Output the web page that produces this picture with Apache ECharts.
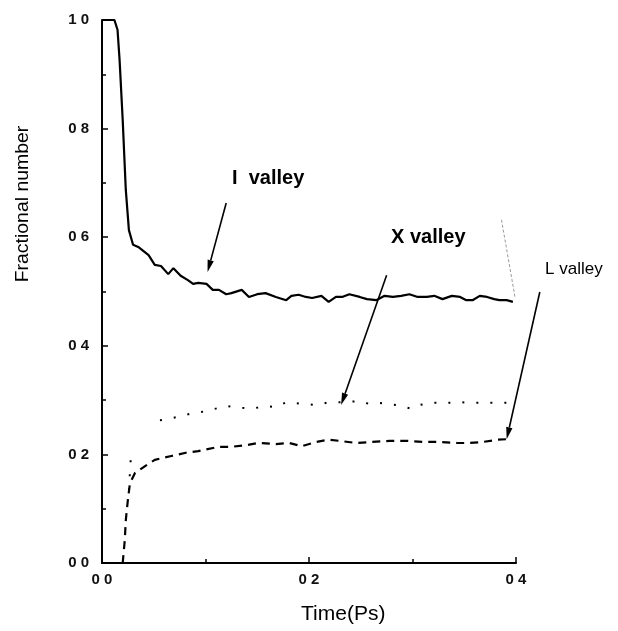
<!DOCTYPE html>
<html>
<head>
<meta charset="utf-8">
<script src="https://cdn.jsdelivr.net/npm/echarts@6/dist/echarts.min.js"></script>
<style>
  html, body { margin: 0; padding: 0; background: #fff; }
  #chart { width: 618px; height: 631px; }
</style>
</head>
<body>
<div id="chart"></div>
<script>
// Fractional valley occupation versus time
const gammaValley = [
  [0, 1.0], [0.012, 1.0], [0.015, 0.982], [0.017, 0.926], [0.020, 0.816],
  [0.023, 0.687], [0.026, 0.613], [0.030, 0.586], [0.035, 0.582], [0.045, 0.567],
  [0.051, 0.549], [0.057, 0.547], [0.064, 0.532], [0.069, 0.543], [0.076, 0.529],
  [0.083, 0.521], [0.088, 0.514], [0.093, 0.516], [0.101, 0.514], [0.107, 0.503],
  [0.113, 0.503], [0.120, 0.495], [0.125, 0.497], [0.135, 0.503], [0.142, 0.490],
  [0.150, 0.495], [0.158, 0.497], [0.168, 0.490], [0.178, 0.484], [0.183, 0.492],
  [0.190, 0.494], [0.197, 0.490], [0.203, 0.488], [0.212, 0.492], [0.219, 0.481],
  [0.226, 0.490], [0.232, 0.490], [0.239, 0.495], [0.249, 0.490], [0.256, 0.486],
  [0.265, 0.484], [0.273, 0.492], [0.281, 0.490], [0.289, 0.492], [0.297, 0.495],
  [0.305, 0.490], [0.314, 0.490], [0.321, 0.492], [0.329, 0.486], [0.338, 0.492],
  [0.346, 0.490], [0.352, 0.484], [0.358, 0.484], [0.365, 0.492], [0.372, 0.490],
  [0.379, 0.486], [0.384, 0.484], [0.391, 0.484], [0.397, 0.481]
];

// '-' marks a break in the dotted trace
const xValley = [
  [0.026, 0.134], [0.028, 0.199], [0.040, '-'], [0.056, 0.263], [0.064, 0.265], [0.088, 0.276],
  [0.096, 0.278], [0.105, 0.282], [0.120, 0.289], [0.129, 0.287], [0.144, 0.284],
  [0.159, 0.289], [0.168, 0.287], [0.178, 0.296], [0.207, 0.291], [0.217, 0.295],
  [0.249, 0.298], [0.258, 0.293], [0.268, 0.295], [0.284, 0.291], [0.299, 0.284],
  [0.307, 0.291], [0.317, 0.295], [0.326, 0.295], [0.339, 0.295], [0.346, 0.296],
  [0.358, 0.295], [0.378, 0.295], [0.394, 0.295]
];

const lValley = [
  [0.020, 0.0], [0.022, 0.042], [0.023, 0.079], [0.025, 0.116], [0.027, 0.147],
  [0.032, 0.166], [0.042, 0.179], [0.051, 0.190], [0.067, 0.197], [0.081, 0.203],
  [0.093, 0.206], [0.113, 0.214], [0.125, 0.214], [0.139, 0.217], [0.151, 0.221],
  [0.168, 0.219], [0.181, 0.221], [0.193, 0.215], [0.207, 0.223], [0.219, 0.227],
  [0.229, 0.225], [0.246, 0.221], [0.261, 0.223], [0.278, 0.225], [0.294, 0.225],
  [0.310, 0.223], [0.326, 0.223], [0.343, 0.221], [0.355, 0.221], [0.368, 0.223],
  [0.382, 0.227], [0.391, 0.228]
];

const xTickLabels = ['0 0', '0 2', '0 4'];
const yTickLabels = ['0 0', '0 2', '0 4', '0 6', '0 8', '1 0'];

// Annotation arrows in data coordinates: [tail, head]
const gammaArrow = [[0.120, 0.663], [0.102, 0.536]];
const xArrow = [[0.275, 0.530], [0.231, 0.291]];
const lArrow = [[0.423, 0.499], [0.391, 0.228]];
const faintStroke = [[0.386, 0.632], [0.399, 0.490]];

const chart = echarts.init(document.getElementById('chart'), null, { renderer: 'canvas' });

const tickFont = { fontFamily: 'Liberation Sans', fontWeight: 'bold', fontSize: 15, color: '#111' };

chart.setOption({
  animation: false,
  backgroundColor: '#fff',
  grid: { left: 102, right: 102, top: 20, bottom: 68 },
  xAxis: {
    type: 'value', min: 0, max: 0.4, interval: 0.2,
    axisLine: { show: true, lineStyle: { color: '#000', width: 2 } },
    axisTick: { show: true, inside: true, length: 6, lineStyle: { color: '#000', width: 1.5 } },
    minorTick: { show: true, splitNumber: 2, length: 4, lineStyle: { color: '#000', width: 1.5 } },
    splitLine: { show: false },
    axisLabel: Object.assign({ margin: 9, formatter: (v) => xTickLabels[Math.round(v / 0.2)] }, tickFont)
  },
  yAxis: {
    type: 'value', min: 0, max: 1, interval: 0.2,
    axisLine: { show: true, lineStyle: { color: '#000', width: 2 } },
    axisTick: { show: true, inside: true, length: 6, lineStyle: { color: '#000', width: 1.5 } },
    minorTick: { show: true, splitNumber: 2, length: 4, lineStyle: { color: '#000', width: 1.5 } },
    splitLine: { show: false },
    axisLabel: Object.assign({ margin: 13, formatter: (v) => yTickLabels[Math.round(v / 0.2)] }, tickFont)
  },
  series: [
    {
      name: 'Γ valley', type: 'line', data: gammaValley, showSymbol: false, clip: false,
      lineStyle: { color: '#000', width: 2.2 }
    },
    {
      name: 'X valley', type: 'line', data: xValley, showSymbol: false, clip: false, connectNulls: false,
      lineStyle: { color: '#000', width: 2, type: [2, 12] }
    },
    {
      name: 'L valley', type: 'line', data: lValley, showSymbol: false, clip: false,
      lineStyle: { color: '#000', width: 2.2, type: [8, 6] }
    }
  ]
});

// Arrows: shaft plus a narrow filled head, placed through the axis scales
function arrow(pair) {
  const a = chart.convertToPixel({ gridIndex: 0 }, pair[0]);
  const b = chart.convertToPixel({ gridIndex: 0 }, pair[1]);
  const dx = b[0] - a[0], dy = b[1] - a[1];
  const len = Math.hypot(dx, dy);
  const ux = dx / len, uy = dy / len;
  const headLen = 12, headHalf = 3.2;
  const bx = b[0] - ux * headLen, by = b[1] - uy * headLen;
  return [
    { type: 'line', shape: { x1: a[0], y1: a[1], x2: bx, y2: by }, style: { stroke: '#000', lineWidth: 1.6 } },
    { type: 'polygon', shape: { points: [b, [bx - uy * headHalf, by + ux * headHalf], [bx + uy * headHalf, by - ux * headHalf]] },
      style: { fill: '#000' } }
  ];
}

const fs0 = chart.convertToPixel({ gridIndex: 0 }, faintStroke[0]);
const fs1 = chart.convertToPixel({ gridIndex: 0 }, faintStroke[1]);

chart.setOption({
  graphic: [].concat(
    arrow(gammaArrow), arrow(xArrow), arrow(lArrow),
    [{ type: 'line', shape: { x1: fs0[0], y1: fs0[1], x2: fs1[0], y2: fs1[1] },
       style: { stroke: '#999', lineWidth: 1, lineDash: [3, 2] } }],
    [
      { type: 'text', left: 232, top: 168, style: { text: 'I  valley', font: 'bold 20px "Liberation Sans"', fill: '#000' } },
      { type: 'text', left: 391, top: 227, style: { text: 'X valley', font: 'bold 20px "Liberation Sans"', fill: '#000' } },
      { type: 'text', left: 545, top: 261, style: { text: 'L valley', font: '17px "Liberation Sans"', fill: '#000' } },
      { type: 'text', left: 301, top: 604, style: { text: 'Time(Ps)', font: '21px "Liberation Sans"', fill: '#000' } },
      { type: 'text', x: 23, y: 204, rotation: Math.PI / 2, scaleX: 1.08,
        style: { text: 'Fractional number', font: '18px "Liberation Sans"', fill: '#000', align: 'center', verticalAlign: 'middle' } }
    ]
  )
});
</script>
</body>
</html>
